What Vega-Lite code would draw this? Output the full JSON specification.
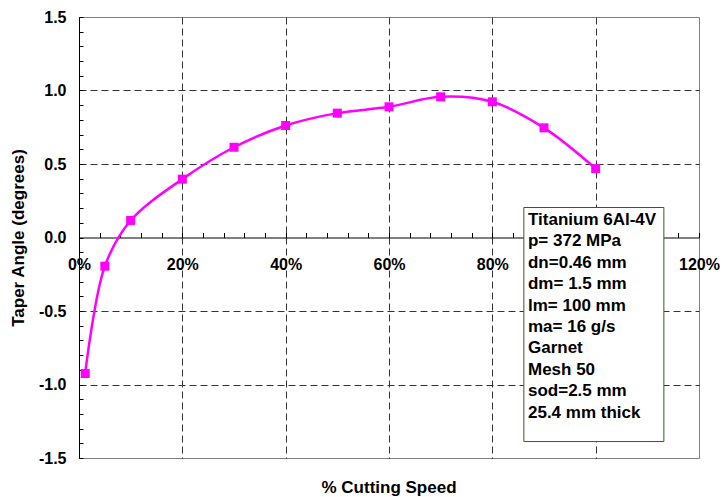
{
  "$schema": "https://vega.github.io/schema/vega-lite/v6.json",
  "width": 620,
  "height": 441,
  "autosize": {"type": "none"},
  "padding": {"left": 79, "top": 17, "right": 23, "bottom": 39},
  "background": "white",
  "config": {
    "font": "Liberation Sans",
    "view": {"stroke": "#808080", "strokeWidth": 1},
    "axis": {"labelFont": "Liberation Sans", "labelFontWeight": "bold", "labelFontSize": 16, "labelColor": "black", "domainColor": "black", "tickColor": "black", "gridColor": "#333333", "gridDash": [7, 4], "gridWidth": 1}
  },
  "title": {"text": "% Cutting Speed", "orient": "bottom", "frame": "group", "anchor": "middle", "font": "Liberation Sans", "fontWeight": "bold", "fontSize": 17, "color": "black", "offset": 14},
  "datasets": {
    "pts": [
      {"x": 0.012, "y": -0.925},
      {"x": 0.05, "y": -0.195},
      {"x": 0.10, "y": 0.116},
      {"x": 0.20, "y": 0.397},
      {"x": 0.30, "y": 0.614},
      {"x": 0.40, "y": 0.762},
      {"x": 0.50, "y": 0.846},
      {"x": 0.60, "y": 0.889},
      {"x": 0.70, "y": 0.957},
      {"x": 0.80, "y": 0.923},
      {"x": 0.90, "y": 0.746},
      {"x": 1.00, "y": 0.469}
    ],
    "box": [{"x1": 0.861, "x2": 1.132, "y1": 0.204, "y2": -1.388}],
    "notes": [
      {"x": 0.869, "y": 0.12, "t": "Titanium 6Al-4V"},
      {"x": 0.869, "y": -0.026, "t": "p= 372 MPa"},
      {"x": 0.869, "y": -0.172, "t": "dn=0.46 mm"},
      {"x": 0.869, "y": -0.318, "t": "dm= 1.5 mm"},
      {"x": 0.869, "y": -0.463, "t": "lm= 100 mm"},
      {"x": 0.869, "y": -0.609, "t": "ma= 16 g/s"},
      {"x": 0.869, "y": -0.755, "t": "Garnet"},
      {"x": 0.869, "y": -0.90, "t": "Mesh 50"},
      {"x": 0.869, "y": -1.046, "t": "sod=2.5 mm"},
      {"x": 0.869, "y": -1.192, "t": "25.4 mm thick"}
    ]
  },
  "layer": [
    {
      "data": {"name": "pts"},
      "mark": {"type": "line", "interpolate": "catmull-rom", "color": "#FF00FF", "strokeWidth": 2.5},
      "encoding": {
        "x": {"field": "x", "type": "quantitative",
          "scale": {"domain": [0, 1.2], "nice": false, "zero": false},
          "axis": {
            "title": null,
            "offset": -220.5,
            "tickCount": 100,
            "values": [0,0.04,0.08,0.12,0.16,0.2,0.24,0.28,0.32,0.36,0.4,0.44,0.48,0.52,0.56,0.6,0.64,0.68,0.72,0.76,0.8,0.84,0.88,0.92,0.96,1,1.04,1.08,1.12,1.16,1.2],
            "format": ".0%",
            "labelExpr": "abs(datum.value*5-round(datum.value*5))<0.001 && abs(datum.value-1)>0.01 ? datum.label : ''",
            "labelFlush": false,
            "labelOverlap": false,
            "labelPadding": 32,
            "labelBaseline": "middle",
            "tickSize": -5,
            "grid": true,
            "gridOpacity": {"condition": {"test": "abs(datum.value*5-round(datum.value*5))<0.001 && datum.value>0.001 && datum.value<1.19", "value": 1}, "value": 0}
          }
        },
        "y": {"field": "y", "type": "quantitative",
          "scale": {"domain": [-1.5, 1.5], "nice": false, "zero": false},
          "axis": {
            "title": "Taper Angle (degrees)",
            "titleFont": "Liberation Sans", "titleFontWeight": "bold", "titleFontSize": 17, "titleColor": "black",
            "titlePadding": 11,
            "tickCount": 100,
            "values": [-1.5,-1.4,-1.3,-1.2,-1.1,-1,-0.9,-0.8,-0.7,-0.6,-0.5,-0.4,-0.3,-0.2,-0.1,0,0.1,0.2,0.3,0.4,0.5,0.6,0.7,0.8,0.9,1,1.1,1.2,1.3,1.4,1.5],
            "labelExpr": "abs(datum.value*2-round(datum.value*2))<0.001 ? replace(format(datum.value,'.1f'),'\u2212','-') : ''",
            "labelFlush": false,
            "labelOverlap": false,
            "labelPadding": 17,
            "tickSize": -4,
            "grid": true,
            "gridOpacity": {"condition": {"test": "abs(datum.value*2-round(datum.value*2))<0.001 && abs(datum.value)>0.01 && abs(datum.value)<1.49", "value": 1}, "value": 0}
          }
        }
      }
    },
    {
      "data": {"name": "pts"},
      "mark": {"type": "point", "shape": "square", "filled": true, "color": "#FF00FF", "size": 81, "opacity": 1},
      "encoding": {
        "x": {"field": "x", "type": "quantitative"},
        "y": {"field": "y", "type": "quantitative"}
      }
    },
    {
      "data": {"name": "box"},
      "mark": {"type": "rect", "fill": "white", "stroke": "#2e5e2e", "strokeWidth": 1},
      "encoding": {
        "x": {"field": "x1", "type": "quantitative"},
        "x2": {"field": "x2"},
        "y": {"field": "y1", "type": "quantitative"},
        "y2": {"field": "y2"}
      }
    },
    {
      "data": {"name": "notes"},
      "mark": {"type": "text", "align": "left", "baseline": "middle", "font": "Liberation Sans", "fontWeight": "bold", "fontSize": 17, "color": "black"},
      "encoding": {
        "x": {"field": "x", "type": "quantitative"},
        "y": {"field": "y", "type": "quantitative"},
        "text": {"field": "t"}
      }
    }
  ]
}
